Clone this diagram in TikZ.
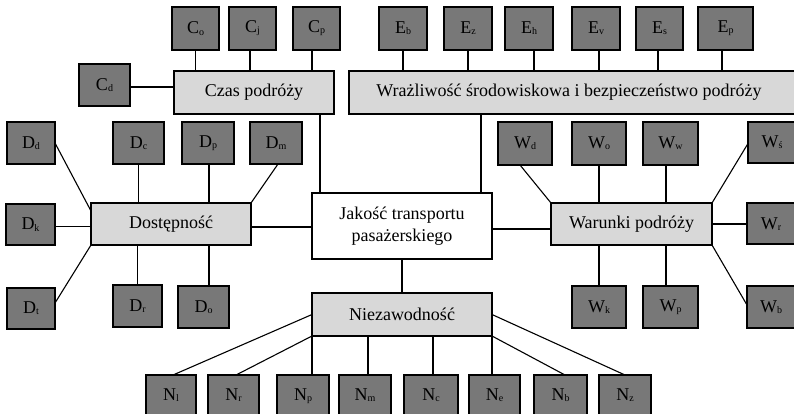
\documentclass[tikz,border=0pt]{standalone}
\usepackage{fontspec}
\setmainfont{Liberation Serif}
\usetikzlibrary{calc}
\definecolor{darkbox}{RGB}{120,120,120}
\definecolor{lightbox}{RGB}{216,216,216}
\newcommand\bx[7]{\node[#6, minimum width={#4-#2}, minimum height={#5-#3}] (#1) at ({(#2+#4)/2},{(#3+#5)/2}) {#7};}
\newcommand\lbl[2]{#1\raisebox{-1.2pt}{\fontsize{10}{10}\selectfont #2}}
\tikzset{
  dk/.style={draw=black, line width=1.1pt, fill=darkbox, inner sep=0pt, outer sep=0pt, font=\fontsize{18}{20}\selectfont},
  lt/.style={draw=black, line width=1.1pt, fill=lightbox, inner sep=0pt, outer sep=0pt, font=\fontsize{18}{20}\selectfont},
  wt/.style={draw=black, line width=1.1pt, fill=white, inner sep=0pt, outer sep=0pt, align=center, font=\fontsize{18}{22}\selectfont},
  ln/.style={draw=black, line width=1.1pt}
}
\begin{document}
\begin{tikzpicture}[x=1pt,y=-1pt]
\fill[white] (0,0) rectangle (794,413);
\useasboundingbox (0,0) rectangle (794,413);
% Czas
\bx{Co}{172}{7}{219}{50}{dk}{\lbl{C}{o}}
\bx{Cj}{229}{7}{276}{50}{dk}{\lbl{C}{j}}
\bx{Cp}{293}{7}{340}{50}{dk}{\lbl{C}{p}}
\bx{Cd}{79}{64}{130}{106}{dk}{\lbl{C}{d}}
\bx{Czas}{174}{71}{334}{114}{lt}{Czas podróży}
% E
\bx{Eb}{379}{7}{427}{50}{dk}{\lbl{E}{b}}
\bx{Ez}{444}{7}{492}{50}{dk}{\lbl{E}{z}}
\bx{Eh}{505}{7}{553}{50}{dk}{\lbl{E}{h}}
\bx{Ev}{572}{7}{620}{50}{dk}{\lbl{E}{v}}
\bx{Es}{636}{7}{683}{50}{dk}{\lbl{E}{s}}
\bx{Ep}{698}{7}{753}{50}{dk}{\lbl{E}{p}}
\node[lt, minimum width=451, minimum height=43, anchor=north west] (Wraz) at (349,71) {};
\node[font=\fontsize{18}{20}\selectfont] (WrazT) at (569,92.5) {Wrażliwość środowiskowa i bezpieczeństwo podróży};
% D
\bx{Dd}{7}{122}{55}{164}{dk}{\lbl{D}{d}}
\bx{Dc}{113}{122}{164}{164}{dk}{\lbl{D}{c}}
\bx{Dp}{182}{122}{234}{164}{dk}{\lbl{D}{p}}
\bx{Dm}{250}{122}{302}{164}{dk}{\lbl{D}{m}}
\bx{Dost}{91}{203}{251}{245}{lt}{Dostępność}
\bx{Dk}{6}{204}{55}{245}{dk}{\lbl{D}{k}}
\bx{Dt}{7}{288}{55}{329}{dk}{\lbl{D}{t}}
\bx{Dr}{113}{285}{162}{327}{dk}{\lbl{D}{r}}
\bx{Do}{178}{286}{229}{328}{dk}{\lbl{D}{o}}
% centre
\bx{Jak}{312}{193}{492}{259}{wt}{Jakość transportu\\pasażerskiego}
\bx{Niez}{312}{293}{492}{336}{lt}{Niezawodność}
% W
\bx{War}{551}{203}{712}{245}{lt}{Warunki podróży}
\bx{Wd}{498}{122}{552}{165}{dk}{\lbl{W}{d}}
\bx{Wo}{572}{122}{626}{165}{dk}{\lbl{W}{o}}
\bx{Ww}{643}{122}{698}{165}{dk}{\lbl{W}{w}}
\node[dk, minimum width=52, minimum height=41, anchor=north west] (Ws) at (748,122) {};
\node[font=\fontsize{18}{20}\selectfont] (WsT) at (772,142) {\lbl{W}{ś}};
\node[dk, minimum width=52, minimum height=41, anchor=north west] (Wr) at (747,203) {};
\node[font=\fontsize{18}{20}\selectfont] (WrT) at (771,224) {\lbl{W}{r}};
\node[dk, minimum width=52, minimum height=42, anchor=north west] (Wb) at (747,286) {};
\node[font=\fontsize{18}{20}\selectfont] (WbT) at (771,307) {\lbl{W}{b}};
\bx{Wk}{572}{286}{626}{328}{dk}{\lbl{W}{k}}
\bx{Wp}{643}{286}{698}{328}{dk}{\lbl{W}{p}}
% N
\bx{Nl}{146}{375}{196}{418}{dk}{\raisebox{4pt}{\lbl{N}{l}}}
\bx{Nr}{208}{375}{259}{418}{dk}{\raisebox{4pt}{\lbl{N}{r}}}
\bx{Np}{277}{375}{329}{418}{dk}{\raisebox{4pt}{\lbl{N}{p}}}
\bx{Nm}{339}{375}{391}{418}{dk}{\raisebox{4pt}{\lbl{N}{m}}}
\bx{Nc}{404}{375}{458}{418}{dk}{\raisebox{4pt}{\lbl{N}{c}}}
\bx{Ne}{469}{375}{520}{418}{dk}{\raisebox{4pt}{\lbl{N}{e}}}
\bx{Nb}{534}{375}{587}{418}{dk}{\raisebox{4pt}{\lbl{N}{b}}}
\bx{Nz}{599}{375}{651}{418}{dk}{\raisebox{4pt}{\lbl{N}{z}}}
% connectors: Czas
\draw[ln] (Co.south) -- (Co.south |- Czas.north);
\draw[ln] ([xshift=-2.5pt]Cj.south) -- ([xshift=-2.5pt]Cj.south |- Czas.north);
\draw[ln] ([xshift=-4.5pt]Cp.south) -- ([xshift=-4.5pt]Cp.south |- Czas.north);
\draw[ln] ([yshift=-2pt]Cd.east) -- ([yshift=-2pt]Cd.east -| Czas.west);
\draw[ln] ([xshift=8pt]Jak.north west) -- ([xshift=8pt]Jak.north west |- Czas.south);
% E
\draw[ln] (Eb.south) -- (Eb.south |- Wraz.north);
\draw[ln] (Ez.south) -- (Ez.south |- Wraz.north);
\draw[ln] ([xshift=5pt]Eh.south) -- ([xshift=5pt]Eh.south |- Wraz.north);
\draw[ln] ([xshift=3pt]Ev.south) -- ([xshift=3pt]Ev.south |- Wraz.north);
\draw[ln] ([xshift=-1.5pt]Es.south) -- ([xshift=-1.5pt]Es.south |- Wraz.north);
\draw[ln] ([xshift=-3.5pt]Ep.south) -- ([xshift=-3.5pt]Ep.south |- Wraz.north);
\draw[ln] ([xshift=-11pt]Jak.north east) -- ([xshift=-11pt]Jak.north east |- Wraz.south);
% D
\draw[ln] (Dd.east) -- ([yshift=-8pt]Dost.north west);
\draw[ln] (Dc.south) -- (Dc.south |- Dost.north);
\draw[ln] ([xshift=1pt]Dp.south) -- ([xshift=1pt]Dp.south |- Dost.north);
\draw[ln] ([xshift=2pt]Dm.south) -- (Dost.north east);
\draw[ln] ([yshift=-2pt]Dk.east) -- ([yshift=-2pt]Dk.east -| Dost.west);
\draw[ln] ([yshift=5.5pt]Dt.east) -- (Dost.south west);
\draw[ln] (Dr.north) -- (Dr.north |- Dost.south);
\draw[ln] ([xshift=5.5pt]Do.north) -- ([xshift=5.5pt]Do.north |- Dost.south);
\draw[ln] ([yshift=-3pt]Dost.east) -- ([yshift=-3pt]Dost.east -| Jak.west);
% centre
\draw[ln] (Niez.north) -- (Jak.south);
\draw[ln] ([yshift=-3pt]Jak.east) -- ([yshift=-3pt]Jak.east -| War.west);
% W
\draw[ln] ([xshift=-5pt]Wd.south) -- (War.north west);
\draw[ln] (Wo.south) -- (Wo.south |- War.north);
\draw[ln] ([xshift=-4.5pt]Ww.south) -- ([xshift=-4.5pt]Ww.south |- War.north);
\draw[ln] (War.north east) -- ([yshift=-1pt]Ws.west);
\draw[ln] (War.east) -- (War.east -| Wr.west);
\draw[ln] (War.south east) -- ([yshift=2pt]Wb.west);
\draw[ln] (Wk.north) -- (Wk.north |- War.south);
\draw[ln] ([xshift=-4.5pt]Wp.north) -- ([xshift=-4.5pt]Wp.north |- War.south);
% N
\draw[ln] (Niez.west) -- ([xshift=2pt]Nl.north);
\draw[ln] (Niez.south west) -- ([xshift=2.5pt]Nr.north);
\draw[ln] (Niez.south west) -- (Niez.south west |- Np.north);
\draw[ln] ([xshift=3pt]Nm.north) -- ([xshift=3pt]Nm.north |- Niez.south);
\draw[ln] ([xshift=2pt]Nc.north) -- ([xshift=2pt]Nc.north |- Niez.south);
\draw[ln] (Niez.south east) -- (Niez.south east |- Ne.north);
\draw[ln] (Niez.south east) -- ([xshift=4.5pt]Nb.north);
\draw[ln] (Niez.east) -- (Nz.north);
\end{tikzpicture}
\end{document}
